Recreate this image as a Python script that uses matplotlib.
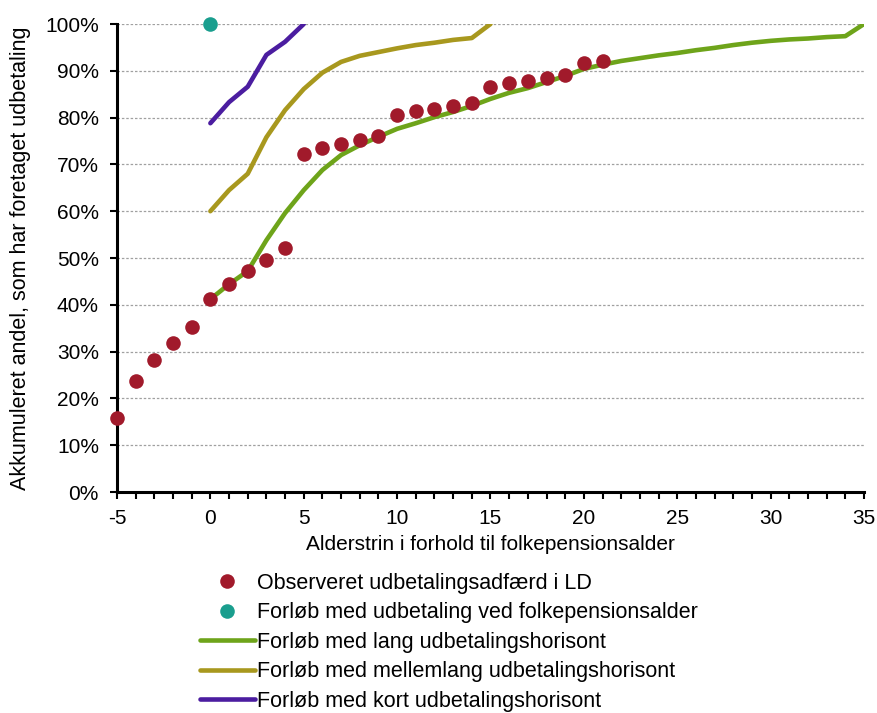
import matplotlib
matplotlib.use("Agg")
import matplotlib.pyplot as plt
from matplotlib.ticker import MultipleLocator, FuncFormatter

plt.rcParams['font.family'] = ['Liberation Sans', 'DejaVu Sans']
plt.rcParams['axes.unicode_minus'] = False

obs_x = list(range(-5, 22))
obs_y = [15.8, 23.7, 28.2, 31.8, 35.3, 41.2, 44.4, 47.2, 49.6, 52.1,
         72.2, 73.5, 74.4, 75.2, 76.1, 80.6, 81.4, 81.8, 82.5, 83.1,
         86.5, 87.4, 87.8, 88.5, 89.1, 91.7, 92.1]

folk_x = [0]
folk_y = [100]

lang_x = list(range(0, 36))
lang_y = [41.2, 44.4, 47.2, 53.8, 59.6, 64.5, 68.8, 72.0, 74.1, 75.9,
          77.6, 78.8, 80.1, 81.2, 82.5, 84.0, 85.3, 86.3, 87.6, 88.9,
          90.4, 91.3, 92.1, 92.7, 93.3, 93.8, 94.4, 94.9, 95.5, 96.0,
          96.4, 96.7, 96.9, 97.2, 97.4, 100.0]

mellem_x = list(range(0, 16))
mellem_y = [60.0, 64.5, 68.0, 75.8, 81.6, 86.1, 89.6, 91.9, 93.2, 94.0,
            94.8, 95.5, 96.0, 96.6, 97.0, 100.0]

kort_x = list(range(0, 6))
kort_y = [78.8, 83.3, 86.6, 93.4, 96.2, 100.0]

labels = ["Observeret udbetalingsadfærd i LD",
          "Forløb med udbetaling ved folkepensionsalder",
          "Forløb med lang udbetalingshorisont",
          "Forløb med mellemlang udbetalingshorisont",
          "Forløb med kort udbetalingshorisont"]

c_obs = '#A11A2B'
c_folk = '#1A9E8E'
c_lang = '#6EA41A'
c_mellem = '#A8981E'
c_kort = '#4B1DA0'

fig = plt.figure(figsize=(8.77, 7.13), dpi=100)
ax = fig.add_axes([117/877, 1 - 492/713, (864-117)/877, (492-24)/713])

l_lang, = ax.plot(lang_x, lang_y, color=c_lang, lw=3.3, solid_capstyle='round', zorder=3, label=labels[2])
l_mel, = ax.plot(mellem_x, mellem_y, color=c_mellem, lw=3.3, solid_capstyle='round', zorder=3, label=labels[3])
l_kort, = ax.plot(kort_x, kort_y, color=c_kort, lw=3.3, solid_capstyle='round', zorder=3, label=labels[4])
p_obs, = ax.plot(obs_x, obs_y, 'o', color=c_obs, ms=10.5, mec='none', clip_on=False, zorder=4, label=labels[0])
p_folk, = ax.plot(folk_x, folk_y, 'o', color=c_folk, ms=10.5, mec='none', clip_on=False, zorder=4, label=labels[1])

ax.set_xlim(-5, 35)
ax.set_ylim(0, 100)
ax.xaxis.set_major_locator(MultipleLocator(5))
ax.xaxis.set_minor_locator(MultipleLocator(1))
ax.yaxis.set_major_locator(MultipleLocator(10))
ax.yaxis.set_major_formatter(FuncFormatter(lambda v, p: f"{int(round(v))}%"))
ax.tick_params(axis='both', which='both', direction='out', width=1.5, length=5, labelsize=15, colors='black')
ax.tick_params(axis='x', which='minor', length=5)
ax.grid(axis='y', color='#A0A0A0', ls=(0, (2, 1.5)), lw=0.9, zorder=0)
ax.set_axisbelow(True)
for s in ['top', 'right']:
    ax.spines[s].set_visible(False)
for s in ['left', 'bottom']:
    ax.spines[s].set_linewidth(2.2)
ax.tick_params(axis='x', pad=7)
ax.tick_params(axis='y', pad=8)

ax.set_xlabel("Alderstrin i forhold til folkepensionsalder", fontsize=15, labelpad=5)
ax.set_ylabel("Akkumuleret andel, som har foretaget udbetaling", fontsize=15.5, labelpad=10)

fig.legend(handles=[p_obs, p_folk, l_lang, l_mel, l_kort], labels=labels,
           loc='upper left', bbox_to_anchor=(200/877, 1 - 573/713), frameon=False,
           fontsize=15.5, handlelength=2.55, handletextpad=0.12, labelspacing=0.39,
           borderpad=0, borderaxespad=0)

fig.savefig("out.png", dpi=100)
